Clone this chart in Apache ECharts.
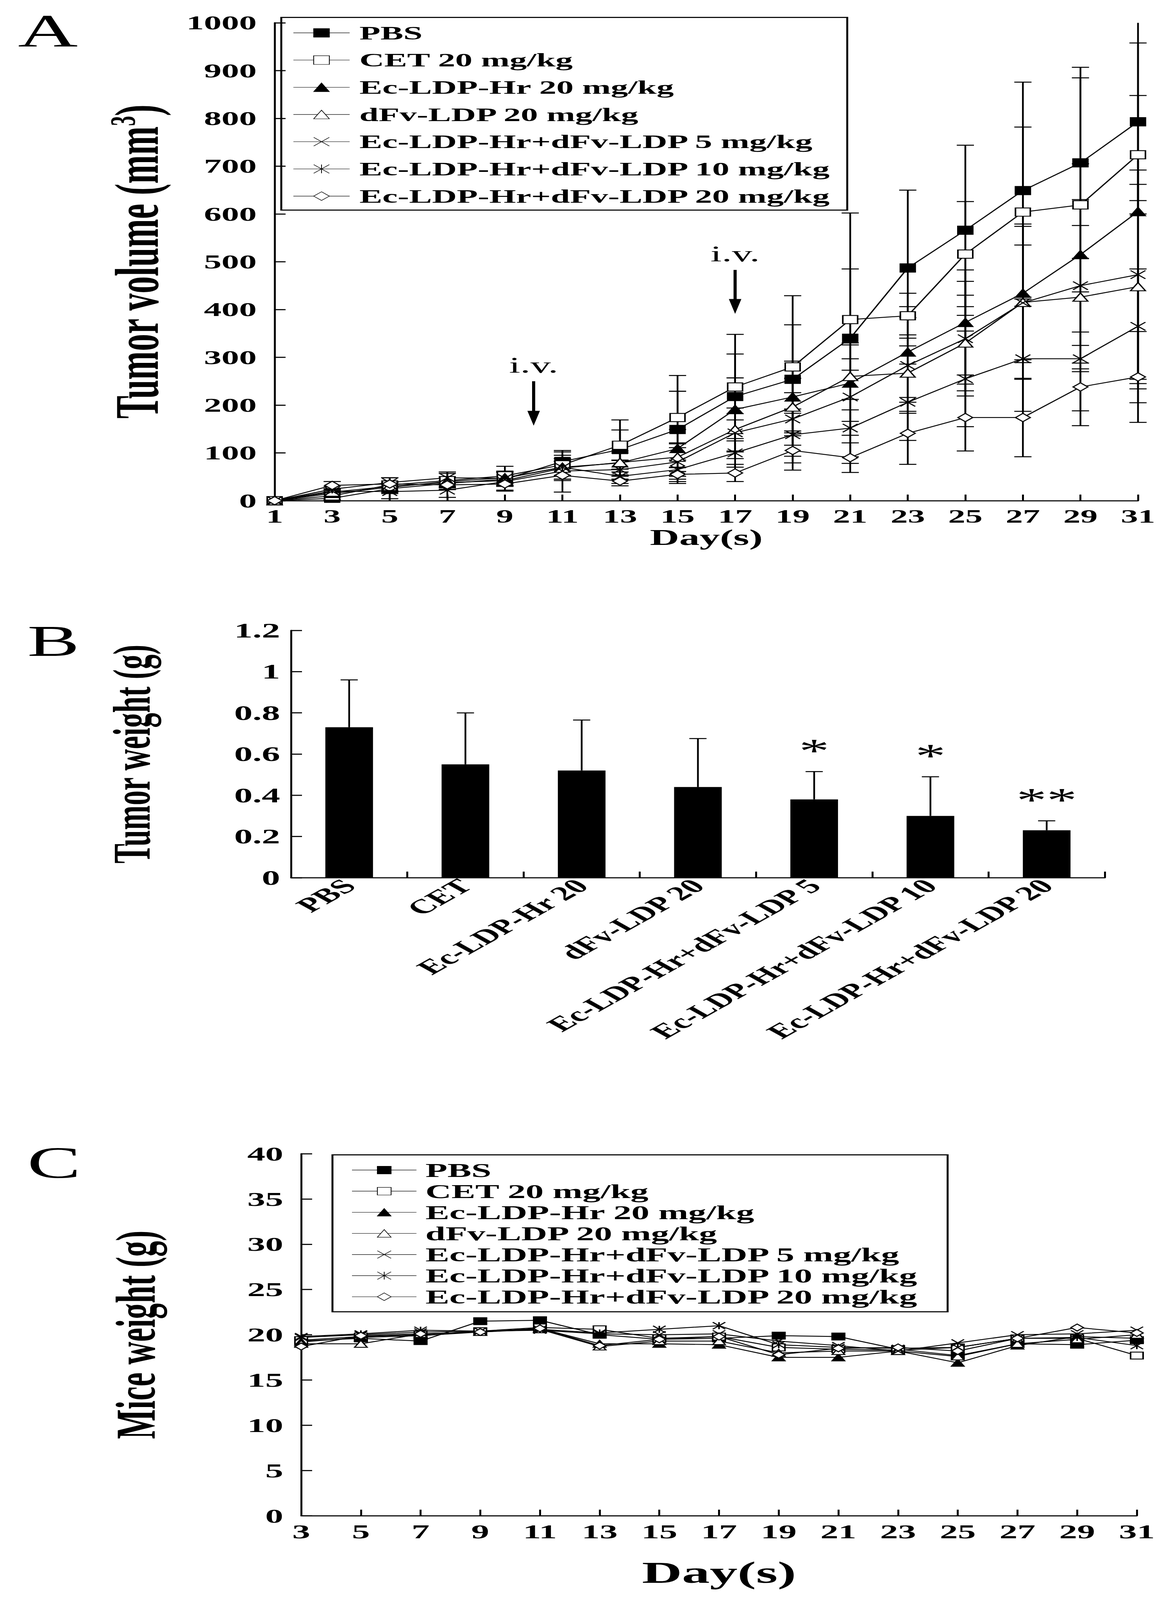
<!DOCTYPE html>
<html>
<head>
<meta charset="utf-8">
<script src="https://cdn.jsdelivr.net/npm/echarts@6/dist/echarts.min.js"></script>
<style>
html, body { margin: 0; padding: 0; background: #fff; overflow: hidden; }
#main { width: 3000px; height: 7350px; transform-origin: 0 0; }
</style>
</head>
<body>
<div id="main"></div>
<script>
// ---------- data ----------
var groupNames = ['PBS', 'CET 20 mg/kg', 'Ec-LDP-Hr 20 mg/kg', 'dFv-LDP 20 mg/kg',
    'Ec-LDP-Hr+dFv-LDP 5 mg/kg', 'Ec-LDP-Hr+dFv-LDP 10 mg/kg', 'Ec-LDP-Hr+dFv-LDP 20 mg/kg'];

// A: tumor volume (mm3)
var volAxisDays = ['1','2','3','4','5','6','7','8','9','10','11','12','13','14','15','16',
    '17','18','19','20','21','22','23','24','25','26','27','28','29','30','31'];
var volDays = ['1','3','5','7','9','11','13','15','17','19','21','23','25','27','29','31'];
var volPBS   = [0, 5, 25, 36, 45, 82, 107, 149, 218, 254, 340, 487, 566, 649, 707, 793];
var volCET   = [0, 10, 33, 42, 52, 75, 116, 174, 238, 280, 379, 387, 516, 604, 619, 724];
var volEc    = [0, 15, 28, 40, 48, 70, 79, 109, 191, 217, 246, 311, 373, 434, 515, 605];
var volDfv   = [0, 18, 30, 38, 42, 68, 80, 91, 149, 196, 260, 267, 330, 415, 426, 448];
var volMix5  = [0, 20, 19, 22, 40, 62, 65, 81, 142, 171, 217, 283, 339, 414, 450, 473];
var volMix10 = [0, 24, 38, 48, 47, 70, 51, 65, 100, 138, 152, 206, 255, 297, 297, 365];
var volMix20 = [0, 32, 35, 33, 35, 53, 41, 55, 58, 105, 90, 141, 174, 174, 238, 259];
// standard deviations
var sdPBS   = [0, 3, 10, 12, 15, 20, 62, 113, 130, 175, 262, 163, 178, 227, 200, 165];
var sdCET   = [0, 8, 15, 15, 20, 30, 32, 55, 69, 88, 106, 47, 110, 178, 266, 124];
var sdEc    = [0, 6, 10, 10, 12, 18, 25, 40, 66, 75, 80, 95, 110, 145, 190, 400];
var sdDfv   = [0, 5, 8, 10, 12, 15, 20, 30, 45, 60, 70, 80, 100, 120, 150, 214];
var sdMix5  = [0, 5, 15, 15, 18, 20, 20, 30, 40, 55, 80, 100, 120, 160, 180, 219];
var sdMix10 = [0, 6, 10, 12, 15, 25, 15, 20, 30, 45, 60, 80, 100, 110, 140, 120];
var sdMix20 = [0, 8, 6, 10, 15, 35, 10, 15, 18, 41, 31, 65, 70, 82, 50, 95];
// injection arrows: day, arrow start, arrow tip (mm3)
var ivMarks = [['10', 250, 157], ['17', 483, 391]];

// B: tumor weight (g)
var wtCats = ['PBS', 'CET', 'Ec-LDP-Hr 20', 'dFv-LDP 20', 'Ec-LDP-Hr+dFv-LDP 5',
    'Ec-LDP-Hr+dFv-LDP 10', 'Ec-LDP-Hr+dFv-LDP 20'];
var wtMean = [0.73, 0.55, 0.52, 0.44, 0.38, 0.30, 0.23];
var wtSd   = [0.23, 0.25, 0.245, 0.235, 0.135, 0.19, 0.046];
var wtSig  = ['', '', '', '', '*', '*', '**'];

// C: mice weight (g)
var mwAxisDays = ['3','4','5','6','7','8','9','10','11','12','13','14','15','16','17',
    '18','19','20','21','22','23','24','25','26','27','28','29','30','31'];
var mwDays = ['3','5','7','9','11','13','15','17','19','21','23','25','27','29','31'];
var mwPBS   = [19.3, 19.6, 19.3, 21.5, 21.6, 20.0, 19.5, 19.6, 19.9, 19.8, 18.4, 17.7, 19.0, 18.9, 19.4];
var mwCET   = [19.4, 19.8, 20.0, 20.4, 20.8, 20.6, 19.6, 19.8, 18.6, 18.4, 18.3, 18.6, 19.6, 19.6, 17.7];
var mwEc    = [19.2, 19.7, 19.9, 20.3, 20.7, 19.0, 19.0, 18.9, 17.5, 17.5, 18.2, 16.9, 18.8, 19.8, 19.6];
var mwDfv   = [19.0, 19.0, 20.1, 20.3, 20.6, 18.7, 19.3, 19.3, 18.0, 18.2, 18.2, 17.6, 19.0, 19.5, 20.0];
var mwMix5  = [19.7, 20.0, 20.3, 20.4, 20.5, 20.1, 20.0, 20.1, 19.3, 18.8, 18.2, 19.1, 20.0, 20.1, 20.5];
var mwMix10 = [19.8, 20.1, 20.5, 20.4, 20.6, 20.2, 20.6, 21.0, 18.9, 18.6, 18.5, 18.6, 19.6, 19.7, 18.8];
var mwMix20 = [18.7, 19.9, 20.1, 20.3, 20.7, 18.8, 19.5, 19.8, 17.8, 18.5, 18.6, 18.2, 19.6, 20.8, 20.2];

var volMeans = [volPBS, volCET, volEc, volDfv, volMix5, volMix10, volMix20];
var volSds = [sdPBS, sdCET, sdEc, sdDfv, sdMix5, sdMix10, sdMix20];
var mwMeans = [mwPBS, mwCET, mwEc, mwDfv, mwMix5, mwMix10, mwMix20];

// ---------- styles ----------
var FONT = '"Liberation Serif", "Times New Roman", serif';
var markers = [
    { symbol: 'rect', fill: '#000' },
    { symbol: 'rect', fill: '#fff' },
    { symbol: 'triangle', fill: '#000' },
    { symbol: 'triangle', fill: '#fff' },
    { symbol: 'path://M0,0L10,10M0,10L10,0', fill: 'none' },
    { symbol: 'path://M0,0L10,10M0,10L10,0M5,0L5,10', fill: 'none' },
    { symbol: 'diamond', fill: '#fff' }
];

function axisLine() { return { show: true, onZero: false, lineStyle: { color: '#000', width: 5 } }; }
function axisTick(interval) {
    return { show: true, inside: true, length: 28, interval: interval, lineStyle: { color: '#000', width: 5 } };
}
function boldLabel(size, margin, interval) {
    return { color: '#000', fontFamily: FONT, fontWeight: 'bold', fontSize: size, margin: margin, interval: interval,
        formatter: function (v) { return String(v); } };
}

// vertical error bar with caps
function errorBarRenderer(capHalf, upOnly, yMax) {
    return function (params, api) {
        var x = api.value(0), m = api.value(1), sd = api.value(2);
        if (!sd) return null;
        var top = m + sd, clipped = false;
        if (yMax != null && top > yMax) { top = yMax; clipped = true; }
        var hi = api.coord([x, top]);
        var lo = api.coord([x, upOnly ? m : Math.max(m - sd, 0)]);
        var st = { stroke: '#000', lineWidth: 4.5 };
        var kids = [{ type: 'line', shape: { x1: hi[0], y1: hi[1], x2: lo[0], y2: lo[1] }, style: st }];
        if (!clipped) kids.push({ type: 'line', shape: { x1: hi[0] - capHalf, y1: hi[1], x2: hi[0] + capHalf, y2: hi[1] }, style: st });
        if (!upOnly) kids.push({ type: 'line', shape: { x1: lo[0] - capHalf, y1: lo[1], x2: lo[0] + capHalf, y2: lo[1] }, style: st });
        if (upOnly && wtSig[params.dataIndex]) {
            kids.push({ type: 'text', style: { text: wtSig[params.dataIndex], x: hi[0], y: hi[1] - 18,
                textAlign: 'center', textVerticalAlign: 'bottom', fill: '#000',
                font: 'normal 155px ' + FONT } });
        }
        return { type: 'group', children: kids };
    };
}

// ---------- series ----------
var series = [];

var volErr = [];
volMeans.forEach(function (arr, g) {
    arr.forEach(function (v, i) { volErr.push([volDays[i], v, volSds[g][i]]); });
});
series.push({
    type: 'custom', xAxisIndex: 0, yAxisIndex: 0, silent: true, z: 1,
    encode: { x: 0, y: 1 },
    renderItem: errorBarRenderer(22, false, 1000),
    data: volErr
});

groupNames.forEach(function (name, g) {
    series.push({
        name: name, type: 'line', xAxisIndex: 0, yAxisIndex: 0, z: 3,
        symbol: markers[g].symbol, symbolSize: 38,
        itemStyle: { color: markers[g].fill, borderColor: '#000', borderWidth: 4 },
        lineStyle: { color: '#000', width: 4 },
        data: volMeans[g].map(function (v, i) { return [volDays[i], v]; })
    });
});

// injection arrows + "i.v."
series.push({
    type: 'custom', xAxisIndex: 0, yAxisIndex: 0, silent: true, z: 4,
    encode: { x: 0, y: [1, 2] },
    renderItem: function (params, api) {
        var a = api.coord([api.value(0), api.value(1)]);
        var b = api.coord([api.value(0), api.value(2)]);
        var head = 68;
        return { type: 'group', children: [
            { type: 'line', shape: { x1: a[0], y1: a[1], x2: b[0], y2: b[1] - head + 5 }, style: { stroke: '#000', lineWidth: 8 } },
            { type: 'polygon', shape: { points: [[b[0] - 16, b[1] - head], [b[0] + 16, b[1] - head], [b[0], b[1]]] }, style: { fill: '#000' } },
            { type: 'text', style: { text: 'i.v.', x: a[0], y: a[1] - 22, textAlign: 'center', textVerticalAlign: 'bottom',
                fill: '#000', font: 'normal 104px ' + FONT } }
        ] };
    },
    data: ivMarks
});

// B bars
series.push({
    type: 'bar', xAxisIndex: 1, yAxisIndex: 1, barWidth: '41%', silent: true,
    itemStyle: { color: '#000' },
    data: wtMean
});
series.push({
    type: 'custom', xAxisIndex: 1, yAxisIndex: 1, silent: true, z: 3,
    encode: { x: 0, y: 1 },
    renderItem: errorBarRenderer(22, true, null),
    data: wtMean.map(function (v, i) { return [i, v, wtSd[i]]; })
});

// C lines
groupNames.forEach(function (name, g) {
    series.push({
        name: name, type: 'line', xAxisIndex: 2, yAxisIndex: 2, z: 3,
        symbol: markers[g].symbol, symbolSize: 32,
        itemStyle: { color: markers[g].fill, borderColor: '#000', borderWidth: 4 },
        lineStyle: { color: '#000', width: 4 },
        data: mwMeans[g].map(function (v, i) { return [mwDays[i], v]; })
    });
});

// the browser window may be shorter than the figure: squeeze it vertically to fit
var box = document.getElementById('main');
var fitY = Math.min(1, (window.innerHeight || 7350) / 7350);
if (fitY < 1) box.style.transform = 'scale(1,' + fitY + ')';

// ---------- chart ----------
var chart = echarts.init(box, null, { renderer: 'svg', width: 3000, height: 7350 });
var option = {
    animation: false,
    backgroundColor: '#fff',
    textStyle: { fontFamily: FONT, color: '#000' },
    graphic: [
        { type: 'text', left: 46, top: 36, style: { text: 'A', font: 'normal 212px ' + FONT, fill: '#000' } },
        { type: 'text', left: 70, top: 2845, style: { text: 'B', font: 'normal 200px ' + FONT, fill: '#000' } },
        { type: 'text', left: 70, top: 5238, style: { text: 'C', font: 'normal 205px ' + FONT, fill: '#000' } }
    ],
    legend: [{
        data: groupNames, orient: 'vertical', left: 720, top: 80,
        padding: [21, 40, 14, 30], itemWidth: 144, itemHeight: 50, itemGap: 25,
        borderColor: '#000', borderWidth: 5, selectedMode: false,
        textStyle: { fontFamily: FONT, fontWeight: 'bold', fontSize: 88, color: '#000', lineHeight: 100, padding: [0, 0, 0, 20] }
    }, {
        data: groupNames, orient: 'vertical', left: 851, top: 5305,
        padding: [24, 73, 23, 49], itemWidth: 165, itemHeight: 44, itemGap: 5,
        borderColor: '#000', borderWidth: 5, selectedMode: false,
        textStyle: { fontFamily: FONT, fontWeight: 'bold', fontSize: 92, color: '#000', lineHeight: 90, padding: [0, 0, 0, 18] }
    }],
    grid: [
        { left: 703, right: 87, top: 105, bottom: 5050 },
        { left: 745, right: 172, top: 2896, bottom: 3318 },
        { left: 771, right: 90, top: 5300, bottom: 387 }
    ],
    xAxis: [{
        gridIndex: 0, type: 'category', data: volAxisDays, boundaryGap: false,
        axisLine: axisLine(), axisTick: axisTick(1), axisLabel: boldLabel(88, 28, 1),
        name: 'Day(s)', nameLocation: 'middle', nameGap: 86,
        nameTextStyle: { fontFamily: FONT, fontWeight: 'bold', fontSize: 104, color: '#000' }
    }, {
        gridIndex: 1, type: 'category', data: wtCats, boundaryGap: true,
        axisLine: axisLine(), axisTick: { show: true, inside: true, length: 28, alignWithLabel: false, lineStyle: { color: '#000', width: 5 } },
        axisLabel: { color: '#000', fontFamily: FONT, fontWeight: 'bold', fontSize: 92, margin: 22, rotate: 45, interval: 0 }
    }, {
        gridIndex: 2, type: 'category', data: mwAxisDays, boundaryGap: false,
        axisLine: axisLine(), axisTick: axisTick(1), axisLabel: boldLabel(92, 26, 1),
        name: 'Day(s)', nameLocation: 'middle', nameGap: 190,
        nameTextStyle: { fontFamily: FONT, fontWeight: 'bold', fontSize: 142, color: '#000' }
    }],
    yAxis: [{
        gridIndex: 0, type: 'value', min: 0, max: 1000, interval: 100,
        splitLine: { show: false }, axisLine: axisLine(), axisTick: axisTick(), axisLabel: boldLabel(90, 46),
        name: 'Tumor volume (mm{sup|3})', nameLocation: 'middle', nameGap: 270,
        nameTextStyle: { fontFamily: FONT, fontWeight: 'bold', fontSize: 158, color: '#000', lineHeight: 165,
            rich: { sup: { fontFamily: FONT, fontWeight: 'bold', fontSize: 92, verticalAlign: 'top', lineHeight: 165 } } }
    }, {
        gridIndex: 1, type: 'value', min: 0, max: 1.2, interval: 0.2,
        splitLine: { show: false }, axisLine: axisLine(), axisTick: axisTick(), axisLabel: boldLabel(94, 28),
        name: 'Tumor weight (g)', nameLocation: 'middle', nameGap: 340,
        nameTextStyle: { fontFamily: FONT, fontWeight: 'bold', fontSize: 136, color: '#000' }
    }, {
        gridIndex: 2, type: 'value', min: 0, max: 40, interval: 5,
        splitLine: { show: false }, axisLine: axisLine(), axisTick: axisTick(), axisLabel: boldLabel(92, 46),
        name: 'Mice weight (g)', nameLocation: 'middle', nameGap: 352,
        nameTextStyle: { fontFamily: FONT, fontWeight: 'bold', fontSize: 145, color: '#000' }
    }],
    series: series
};
chart.setOption(option);
</script>
</body>
</html>
